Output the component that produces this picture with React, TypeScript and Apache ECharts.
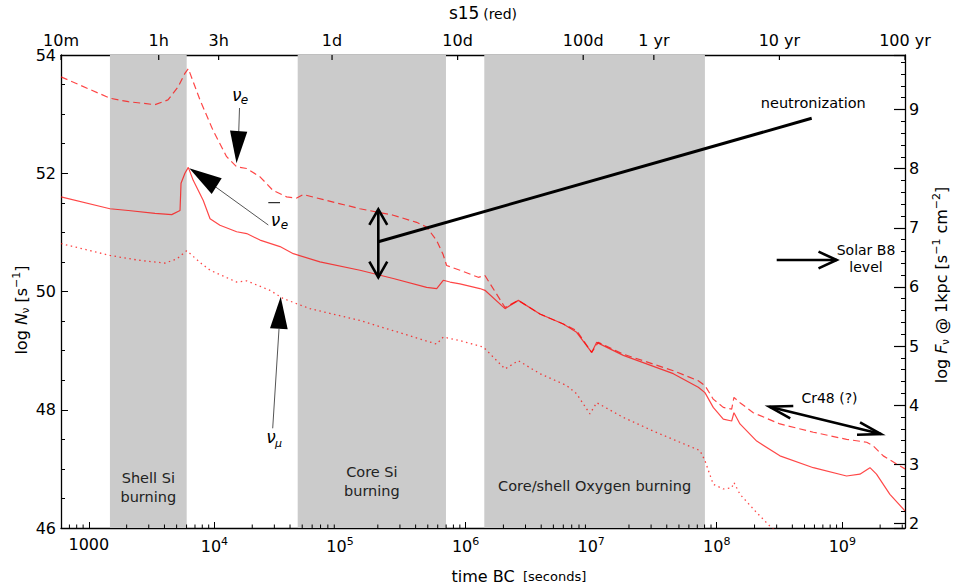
import React, { useEffect, useRef } from 'react';
import * as echarts from 'echarts';

const FONT = 'DejaVu Sans';

// time [s], log N (neutrinos per second)
const nuE: [number, number][] = [
  [600, 53.63], [1472, 53.27], [2061, 53.21], [3365, 53.16], [4266, 53.24], [5129, 53.46], [5821, 53.69],
  [6194, 53.77], [7674, 53.24], [9727, 52.73], [12503, 52.28], [15031, 52.11], [18072, 52.08], [23067, 51.94],
  [29242, 51.71], [37584, 51.6], [45186, 51.58], [50933, 51.64], [78343, 51.54], [144212, 51.4], [265461, 51.29],
  [407380, 51.17], [489779, 51.09], [588844, 50.86], [663743, 50.62], [706318, 50.44], [901571, 50.36],
  [1.262e6, 50.24], [1.426e6, 50.27], [2.061e6, 49.73], [2.63e6, 49.85], [3.908e6, 49.62], [5.998e6, 49.45],
  [7.656e6, 49.34], [1.009e7, 48.97], [1.14e7, 49.14], [1.803e7, 48.94], [4.508e7, 48.66], [7.129e7, 48.49],
  [8.054e7, 48.41], [9.376e7, 48.18], [1.127e8, 48.04], [1.315e8, 48.01], [1.371e8, 48.21], [1.531e8, 48.12],
  [1.954e8, 47.95], [3.184e8, 47.76], [5.875e8, 47.62], [1.081e9, 47.5], [1.563e9, 47.45], [1.758e9, 47.39],
  [2.118e9, 47.22], [2.877e9, 47.05], [3.155e9, 47.0],
];

const nuEbar: [number, number][] = [
  [600, 51.6], [1472, 51.4], [2061, 51.37], [3365, 51.32], [4571, 51.3], [5321, 51.37], [5420, 51.83],
  [5821, 52.0], [6194, 52.1], [6776, 51.88], [8147, 51.54], [9226, 51.23], [11066, 51.12], [15031, 51.01],
  [18072, 50.98], [23067, 50.87], [33266, 50.76], [42462, 50.64], [69183, 50.5], [144212, 50.36],
  [265461, 50.22], [489779, 50.07], [588844, 50.05], [663743, 50.19], [751623, 50.16], [901571, 50.13],
  [1.3e6, 50.05], [1.426e6, 50.02], [2.061e6, 49.71], [2.63e6, 49.85], [3.908e6, 49.62], [5.998e6, 49.45],
  [7.656e6, 49.31], [1.009e7, 48.97], [1.107e7, 49.14], [1.803e7, 48.92], [4.508e7, 48.61], [7.129e7, 48.38],
  [8.054e7, 48.29], [9.376e7, 48.04], [1.127e8, 47.84], [1.315e8, 47.81], [1.371e8, 47.95], [1.531e8, 47.76],
  [2.08e8, 47.47], [3.184e8, 47.22], [5.875e8, 47.02], [1.081e9, 46.88], [1.38e9, 46.91], [1.66e9, 47.02],
  [1.871e9, 46.91], [2.393e9, 46.57], [3.155e9, 46.29],
];

const nuMu: [number, number][] = [
  [600, 50.81], [1472, 50.61], [2475, 50.53], [4036, 50.48], [5000, 50.55], [6012, 50.69], [7907, 50.47],
  [9226, 50.36], [15031, 50.16], [18072, 50.18], [27670, 50.02], [35320, 49.88], [57680, 49.71],
  [144212, 49.51], [360600, 49.25], [588844, 49.11], [663743, 49.23], [901571, 49.17], [1.384e6, 49.06],
  [2.061e6, 48.69], [2.63e6, 48.83], [3.908e6, 48.61], [6.38e6, 48.41], [7.656e6, 48.27], [9.77e6, 47.93],
  [1.107e7, 48.12], [1.803e7, 47.87], [3.12e7, 47.64], [5.09e7, 47.45], [7.345e7, 47.31], [8.054e7, 47.14],
  [9.376e7, 46.74], [1.127e8, 46.66], [1.315e8, 46.68], [1.371e8, 46.77], [1.531e8, 46.57], [2.08e8, 46.26],
  [2.655e8, 46.03], [2.96e8, 45.95],
];

// burning phases [start s, end s, label]
const bandStart = [1472, 46030, 1.409e6];
const bandEnd = [6012, 698000, 8.05e7];
const bandLabels = ['Shell Si\nburning', 'Core Si\nburning', 'Core/shell Oxygen burning'];

// top axis (time before collapse)
const topTicks = [600, 3600, 10800, 86400, 864000, 8640000, 31557600, 315576000, 3155760000];
const topLabels = ['10m', '1h', '3h', '1d', '10d', '100d', '1 yr', '10 yr', '100 yr'];

const minorMantissas = [2, 3, 4, 5, 6, 7, 8, 9];
const minorDecades = [3, 4, 5, 6, 7, 8];
const minorExtra = [700, 800, 900, 2e9, 3e9];

const X_MIN = 600;
const X_MAX = 3155760000;
const Y_MIN = 46;
const Y_MAX = 54;
const F_OFFSET = 44.078; // log(4 pi (1 kpc)^2)

function head(tip: number[], from: number[], len: number, ang: number) {
  const dx = from[0] - tip[0];
  const dy = from[1] - tip[1];
  const d = Math.hypot(dx, dy);
  const ux = dx / d;
  const uy = dy / d;
  const rot = (a: number) => [
    tip[0] + len * (ux * Math.cos(a) - uy * Math.sin(a)),
    tip[1] + len * (ux * Math.sin(a) + uy * Math.cos(a)),
  ];
  return [rot(ang), tip, rot(-ang)];
}

const ZG = 100;
function lineEl(x1: number, y1: number, x2: number, y2: number, w: number, c: string) {
  return { type: 'line', z: ZG, silent: true, shape: { x1, y1, x2, y2 }, style: { stroke: c, lineWidth: w } };
}
function polyEl(points: number[][], w: number) {
  return { type: 'polyline', z: ZG, silent: true, shape: { points }, style: { stroke: '#000', lineWidth: w, fill: null } };
}
function triEl(points: number[][]) {
  return { type: 'polygon', z: ZG, silent: true, shape: { points }, style: { fill: '#000' } };
}
function textEl(x: number, y: number, text: string, size: number, extra: any = {}) {
  return {
    type: 'text', z: ZG, silent: true, x, y,
    style: { text, fontSize: size, fontFamily: FONT, fill: '#000', align: 'center', verticalAlign: 'middle', ...extra },
  };
}

export default function App() {
  const ref = useRef<HTMLDivElement>(null);
  useEffect(() => {
    if (!ref.current) return;
    const chart = echarts.init(ref.current, undefined, { renderer: 'svg' });

    const minorTicks: number[] = [...minorExtra];
    minorDecades.forEach((d) => minorMantissas.forEach((m) => minorTicks.push(m * Math.pow(10, d))));

    const red = 'rgba(255,0,0,0.72)';

    const vTop = [378.3, 209.3];
    const vBot = [378.3, 277.3];
    const b8From = [776.7, 260];
    const b8Tip = [836.7, 260];
    const crL = [769.3, 406.7];
    const crR = [881, 434];

    const graphics: any[] = [
      // title
      {
        type: 'text', z: ZG, silent: true, x: 483, y: 21,
        style: {
          text: '{a|s15} {b|(red)}', fontFamily: FONT, align: 'center', verticalAlign: 'bottom', fill: '#000',
          rich: { a: { fontSize: 17, fontFamily: FONT, verticalAlign: 'bottom' }, b: { fontSize: 14, fontFamily: FONT, verticalAlign: 'bottom' } },
        },
      },
      // x axis name
      textEl(483, 584, 'time BC', 16, { verticalAlign: 'bottom' }),
      textEl(523, 583, '[seconds]', 13, { align: 'left', verticalAlign: 'bottom' }),
      // left axis name
      {
        type: 'text', z: ZG, silent: true, x: 21, y: 310, rotation: Math.PI / 2,
        style: {
          text: 'log {i|N}{sub|ν} [s{sup|−1}]', fontSize: 16, fontFamily: FONT, fill: '#000', align: 'center', verticalAlign: 'middle',
          rich: {
            i: { fontSize: 16, fontStyle: 'italic', fontFamily: FONT },
            sub: { fontSize: 10, fontFamily: FONT, padding: [8, 0, 0, 0] },
            sup: { fontSize: 11, fontFamily: FONT, padding: [0, 0, 9, 0] },
          },
        },
      },
      // right axis name
      {
        type: 'text', z: ZG, silent: true, x: 941, y: 285, rotation: Math.PI / 2,
        style: {
          text: 'log {i|F}{sub|ν} @ 1kpc [s{sup|−1} cm{sup|−2}]', fontSize: 16, fontFamily: FONT, fill: '#000', align: 'center', verticalAlign: 'middle',
          rich: {
            i: { fontSize: 16, fontStyle: 'italic', fontFamily: FONT },
            sub: { fontSize: 10, fontFamily: FONT, padding: [8, 0, 0, 0] },
            sup: { fontSize: 11, fontFamily: FONT, padding: [0, 0, 9, 0] },
          },
        },
      },
      // nu_e annotation
      textEl(236.7, 95, 'ν', 17, { fontStyle: 'italic' }),
      textEl(244.5, 100, 'e', 12, { fontStyle: 'italic' }),
      lineEl(239.5, 108, 238.7, 133, 1, '#555'),
      triEl([[230, 130.5], [247.3, 131.7], [236.5, 163.3]]),
      // anti nu_e annotation
      textEl(275.5, 220, 'ν', 17, { fontStyle: 'italic' }),
      textEl(284.5, 225, 'e', 12, { fontStyle: 'italic' }),
      lineEl(268.3, 202.7, 280, 202.7, 1, '#000'),
      lineEl(268.3, 225, 215, 186.5, 1, '#555'),
      triEl([[189.3, 168.3], [211.7, 194], [221.7, 178.3]]),
      // nu_mu annotation
      textEl(271, 436.7, 'ν', 17, { fontStyle: 'italic' }),
      textEl(278.5, 443, 'μ', 11, { fontStyle: 'italic' }),
      lineEl(272.7, 428.3, 279, 329, 1, '#555'),
      triEl([[270, 328.3], [287.7, 329.3], [280.7, 296.7]]),
      // neutronization
      lineEl(vTop[0], vTop[1], vBot[0], vBot[1], 2.6, '#000'),
      polyEl(head(vTop, vBot, 18, 0.52), 2.6),
      polyEl(head(vBot, vTop, 18, 0.52), 2.6),
      lineEl(378.3, 241.7, 811.7, 118.3, 3, '#000'),
      textEl(813.3, 102.7, 'neutronization', 14.5),
      // solar B8
      lineEl(b8From[0], b8From[1], b8Tip[0], b8Tip[1], 2.6, '#000'),
      polyEl(head(b8Tip, b8From, 20, 0.43), 2.6),
      textEl(866, 249.5, 'Solar B8', 14),
      textEl(866, 267, 'level', 14),
      // Cr48
      lineEl(crL[0], crL[1], crR[0], crR[1], 2.6, '#000'),
      polyEl(head(crL, crR, 24, 0.27), 2.6),
      polyEl(head(crR, crL, 24, 0.27), 2.6),
      textEl(829.5, 398.3, 'Cr48 (?)', 14),
    ];

    const option: any = {
      animation: false,
      textStyle: { fontFamily: FONT },
      grid: { left: 61, right: 50, top: 55, bottom: 59, containLabel: false },
      xAxis: [
        {
          type: 'log', logBase: 10, min: X_MIN, max: X_MAX, position: 'bottom',
          axisLine: { show: true, lineStyle: { color: '#000', width: 1.3 } },
          axisTick: { show: true, inside: true, length: 6, lineStyle: { color: '#000', width: 1 } },
          minorTick: { show: false },
          splitLine: { show: false },
          axisLabel: {
            color: '#000', fontSize: 16, fontFamily: FONT, margin: 8,
            formatter: (v: number) => {
              const e = Math.log10(v);
              const r = Math.round(e);
              if (Math.abs(e - r) > 1e-6) return '';
              if (r === 3) return '1000';
              return `10{sup|${r}}`;
            },
            rich: { sup: { fontSize: 11, fontFamily: FONT, color: '#000', padding: [0, 0, 10, 0] } },
          },
        },
        {
          type: 'log', logBase: 10, min: X_MIN, max: X_MAX, position: 'top',
          axisLine: { show: true, lineStyle: { color: '#000', width: 1.3 } },
          axisTick: { show: false }, axisLabel: { show: false }, splitLine: { show: false },
        },
      ],
      yAxis: [
        {
          type: 'value', min: Y_MIN, max: Y_MAX, interval: 2, position: 'left',
          axisLine: { show: true, lineStyle: { color: '#000', width: 1.3 } },
          axisTick: { show: true, inside: true, length: 7, lineStyle: { color: '#000', width: 1 } },
          minorTick: { show: true, splitNumber: 4, length: 4, lineStyle: { color: '#000', width: 1 } },
          splitLine: { show: false },
          axisLabel: { color: '#000', fontSize: 16, fontFamily: FONT, margin: 5 },
        },
        {
          type: 'value', min: Y_MIN - F_OFFSET, max: Y_MAX - F_OFFSET, splitNumber: 8, position: 'right',
          axisLine: { show: true, lineStyle: { color: '#000', width: 1.3 } },
          axisTick: { show: true, inside: true, length: 11, lineStyle: { color: '#000', width: 1.2 } },
          minorTick: { show: true, splitNumber: 5, length: 4, lineStyle: { color: '#000', width: 1 } },
          splitLine: { show: false },
          axisLabel: {
            color: '#000', fontSize: 16, fontFamily: FONT, margin: 4,
            formatter: (v: number) => (Math.abs(v - Math.round(v)) < 1e-6 ? String(Math.round(v)) : ''),
          },
        },
      ],
      series: [
        {
          type: 'line', data: [], z: 1, silent: true,
          markArea: {
            silent: true,
            itemStyle: { color: '#cbcbcb' },
            data: bandStart.map((s, i) => [
              {
                xAxis: s, name: bandLabels[i],
                label: {
                  show: true, position: 'insideBottom', distance: [22, 28, 33][i],
                  color: '#222', fontSize: 14.5, fontFamily: FONT, lineHeight: 19, align: 'center',
                },
              },
              { xAxis: bandEnd[i] },
            ]),
          },
        },
        {
          name: 'nu_e', type: 'line', data: nuE, showSymbol: false, z: 3, silent: true,
          lineStyle: { color: red, width: 1.2, type: [7, 4] },
        },
        {
          name: 'anti nu_e', type: 'line', data: nuEbar, showSymbol: false, z: 3, silent: true,
          lineStyle: { color: red, width: 1.2, type: 'solid' },
        },
        {
          name: 'nu_mu', type: 'line', data: nuMu, showSymbol: false, z: 3, silent: true,
          lineStyle: { color: red, width: 1.3, type: [1.5, 3.5] },
        },
        {
          type: 'custom', z: 5, silent: true,
          data: topTicks.map((t) => [t, Y_MAX]),
          renderItem: (params: any, api: any) => {
            const p = api.coord([api.value(0), Y_MAX]);
            const i = params.dataIndex;
            return {
              type: 'group',
              children: [
                { type: 'line', shape: { x1: p[0], y1: p[1], x2: p[0], y2: p[1] + 5 }, style: { stroke: '#000', lineWidth: 1.2 } },
                {
                  type: 'text', x: p[0], y: p[1] - 15,
                  style: { text: topLabels[i], fontSize: 16, fontFamily: FONT, fill: '#000', align: 'center', verticalAlign: 'middle' },
                },
              ],
            };
          },
        },
        {
          type: 'custom', z: 5, silent: true,
          data: minorTicks.map((t) => [t, Y_MIN]),
          renderItem: (params: any, api: any) => {
            const p = api.coord([api.value(0), Y_MIN]);
            return { type: 'line', shape: { x1: p[0], y1: p[1], x2: p[0], y2: p[1] - 3.5 }, style: { stroke: '#000', lineWidth: 1 } };
          },
        },
      ],
      graphic: { elements: graphics },
    };

    chart.setOption(option);
    return () => chart.dispose();
  }, []);

  return <div ref={ref} style={{ width: 955, height: 587, position: 'absolute', left: 0, top: 0 }} />;
}
